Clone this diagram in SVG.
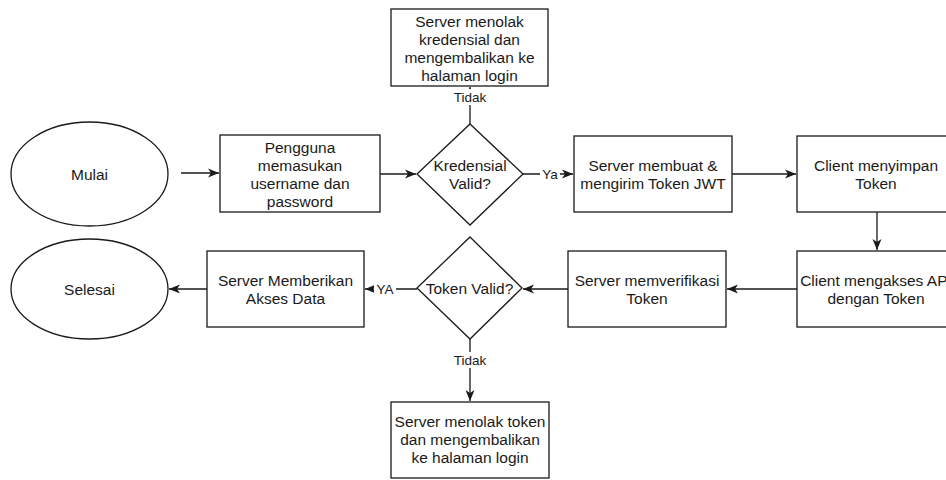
<svg xmlns="http://www.w3.org/2000/svg" width="946" height="480" viewBox="0 0 946 480">
<defs>
<style>
.s{fill:#fff;stroke:#1a1a1a;stroke-width:1.3}
.t{font-family:"Liberation Sans",Arial,sans-serif;font-size:15.5px;fill:#1a1a1a;text-anchor:middle}
.l{font-family:"Liberation Sans",Arial,sans-serif;font-size:13.5px;fill:#1a1a1a;text-anchor:middle}
.c{fill:none;stroke:#1a1a1a;stroke-width:1.3}
</style>
<marker id="a" markerUnits="userSpaceOnUse" markerWidth="12" markerHeight="10" refX="11" refY="5" orient="auto">
<path d="M0,0.5 L11,5 L0,9.5 L3,5 Z" fill="#1a1a1a"/>
</marker>
</defs>
<rect width="946" height="480" fill="#fff"/>
<g id="connectors">
<path class="c" d="M181,173 H219" marker-end="url(#a)"/>
<path class="c" d="M380,174 H416" marker-end="url(#a)"/>
<path class="c" d="M470,124 V87" marker-end="url(#a)"/>
<path class="c" d="M523,174 H573" marker-end="url(#a)"/>
<path class="c" d="M732,174 H796" marker-end="url(#a)"/>
<path class="c" d="M877,212 V250" marker-end="url(#a)"/>
<path class="c" d="M797,289 H727" marker-end="url(#a)"/>
<path class="c" d="M568,289 H523" marker-end="url(#a)"/>
<path class="c" d="M417,289 H365" marker-end="url(#a)"/>
<path class="c" d="M207,289 H169" marker-end="url(#a)"/>
<path class="c" d="M470,339 V401" marker-end="url(#a)"/>
<rect x="454" y="89" width="32" height="16" fill="#fff"/>
<text class="l" x="470" y="102">Tidak</text>
<rect x="540" y="166" width="20" height="16" fill="#fff"/>
<text class="l" x="550" y="178.5">Ya</text>
<rect x="374" y="281" width="22" height="16" fill="#fff"/>
<text class="l" x="385" y="294">YA</text>
<rect x="453" y="352" width="34" height="16" fill="#fff"/>
<text class="l" x="470" y="365">Tidak</text>
</g>
<g id="mulai">
<ellipse class="s" cx="89.5" cy="174" rx="78.5" ry="52"/>
<text class="t" x="89.5" y="179.5">Mulai</text>
</g>
<g id="pengguna">
<rect class="s" x="220" y="135" width="160" height="77"/>
<text class="t" x="300" y="153">Pengguna</text>
<text class="t" x="300" y="171">memasukan</text>
<text class="t" x="300" y="189">username dan</text>
<text class="t" x="300" y="207">password</text>
</g>
<g id="kredensial">
<polygon class="s" points="470,124 523,174 470,225 417,174"/>
<text class="t" x="470" y="170.5">Kredensial</text>
<text class="t" x="470" y="188.5">Valid?</text>
</g>
<g id="tolak-kredensial">
<rect class="s" x="391" y="9" width="157" height="77"/>
<text class="t" x="469.5" y="27">Server menolak</text>
<text class="t" x="469.5" y="45">kredensial dan</text>
<text class="t" x="469.5" y="63">mengembalikan ke</text>
<text class="t" x="469.5" y="81">halaman login</text>
</g>
<g id="buat-token">
<rect class="s" x="574" y="136" width="158" height="76"/>
<text class="t" x="653" y="170.5">Server membuat &amp;</text>
<text class="t" x="653" y="188.5">mengirim Token JWT</text>
</g>
<g id="simpan-token">
<rect class="s" x="797" y="136" width="158" height="76"/>
<text class="t" x="876" y="170.5">Client menyimpan</text>
<text class="t" x="876" y="188.5">Token</text>
</g>
<g id="akses-api">
<rect class="s" x="797" y="251" width="158" height="76"/>
<text class="t" x="876" y="285.5">Client mengakses API</text>
<text class="t" x="876" y="303.5">dengan Token</text>
</g>
<g id="verifikasi">
<rect class="s" x="568" y="251" width="158" height="76"/>
<text class="t" x="647" y="285.5">Server memverifikasi</text>
<text class="t" x="647" y="303.5">Token</text>
</g>
<g id="token-valid">
<polygon class="s" points="470,237 522,288 470,339 417,288"/>
<text class="t" x="469.5" y="294">Token Valid?</text>
</g>
<g id="akses-data">
<rect class="s" x="207" y="251" width="157" height="76"/>
<text class="t" x="285.5" y="285.5">Server Memberikan</text>
<text class="t" x="285.5" y="303.5">Akses Data</text>
</g>
<g id="selesai">
<ellipse class="s" cx="89.5" cy="289" rx="78.5" ry="50"/>
<text class="t" x="89.5" y="294.5">Selesai</text>
</g>
<g id="tolak-token">
<rect class="s" x="391" y="402" width="158" height="76"/>
<text class="t" x="470" y="427">Server menolak token</text>
<text class="t" x="470" y="445">dan mengembalikan</text>
<text class="t" x="470" y="463">ke halaman login</text>
</g>
</svg>
